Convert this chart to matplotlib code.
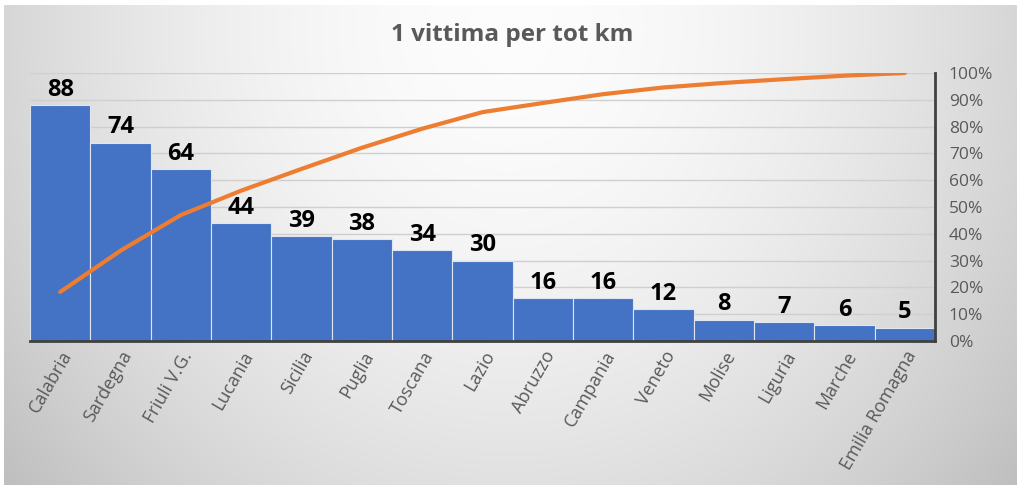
import numpy as np
import matplotlib
matplotlib.use("Agg")
import matplotlib.pyplot as plt
from matplotlib.ticker import FuncFormatter

plt.rcParams['font.family'] = ['Open Sans', 'DejaVu Sans']

regions = ["Calabria", "Sardegna", "Friuli V.G.", "Lucania", "Sicilia", "Puglia",
           "Toscana", "Lazio", "Abruzzo", "Campania", "Veneto", "Molise",
           "Liguria", "Marche", "Emilia Romagna"]
values = [88, 74, 64, 44, 39, 38, 34, 30, 16, 16, 12, 8, 7, 6, 5]
cumulative_pct = [18.3, 33.7, 47.0, 56.1, 64.2, 72.1, 79.2, 85.4, 88.8, 92.1,
                  94.6, 96.3, 97.7, 99.0, 100.0]
title = "1 vittima per tot km"
pct_ticks = [0, 10, 20, 30, 40, 50, 60, 70, 80, 90, 100]

W, H = 1024, 490
fig = plt.figure(figsize=(W / 100, H / 100), dpi=100)
fig.patch.set_facecolor("white")

# background gradient panel
bg = fig.add_axes([4 / W, 5 / H, 1013 / W, 480 / H])
bg.set_axis_off()
ny, nx = 200, 400
yy, xx = np.mgrid[0:1:ny * 1j, 0:1:nx * 1j]
r = np.sqrt(((xx - 0.5) / 0.62) ** 2 + ((yy - 0.05) / 1.4) ** 2)
shade = 0.99 - 0.22 * np.clip(r, 0, 1.2) ** 1.8
img = np.dstack([shade, shade, shade])
bg.imshow(img, aspect="auto", extent=[0, 1, 0, 1], origin="upper")
bg.set_xlim(0, 1)
bg.set_ylim(0, 1)

left, right = 30 / W, 935 / W
bottom, top = (H - 341) / H, (H - 73) / H
ax = fig.add_axes([left, bottom, right - left, top - bottom])
ax.patch.set_alpha(0)

x = np.arange(len(regions))
ax.set_xlim(-0.5, len(regions) - 0.5)
ax.set_ylim(0, 100)
ax.set_yticks(pct_ticks)
ax.yaxis.grid(True, color="#cfcfcf", linewidth=1.0)
ax.set_axisbelow(True)

bars = ax.bar(x, values, width=1.0, color="#4472C4", edgecolor="#dfe6f2",
              linewidth=0.8, zorder=2)
for xi, v in zip(x, values):
    ax.text(xi, v + 1.2, str(v), ha="center", va="bottom", fontsize=17,
            fontweight="bold", color="black", zorder=4)

ax.set_xticks(x)
ax.set_xticklabels(regions, rotation=60, ha="right", rotation_mode="anchor",
                   fontsize=13, color="#595959")
ax.tick_params(axis="x", length=0, pad=5)

for name in ["top", "left", "right"]:
    ax.spines[name].set_visible(False)
ax.spines["bottom"].set_color("#404040")
ax.spines["bottom"].set_linewidth(2.0)

ax2 = ax.twinx()
ax.tick_params(axis="y", left=False, right=False, labelleft=False, labelright=False)
ax2.set_ylim(0, 100)
ax2.set_yticks(pct_ticks)
ax2.yaxis.set_major_formatter(FuncFormatter(lambda v, p: f"{int(v)}%"))
ax2.tick_params(axis="y", length=0, labelsize=12.5, labelcolor="#595959", pad=10)
for name in ["top", "left", "bottom"]:
    ax2.spines[name].set_visible(False)
ax2.spines["right"].set_color("#404040")
ax2.spines["right"].set_linewidth(2.0)
ax2.plot(x, cumulative_pct, color="#ED7D31", linewidth=3.0,
         solid_capstyle="round", zorder=5)

fig.text(0.5, (H - 35) / H, title, ha="center", va="center", fontsize=17.5,
         fontweight="bold", color="#595959")

fig.savefig("out.png", dpi=100, facecolor=fig.get_facecolor())
